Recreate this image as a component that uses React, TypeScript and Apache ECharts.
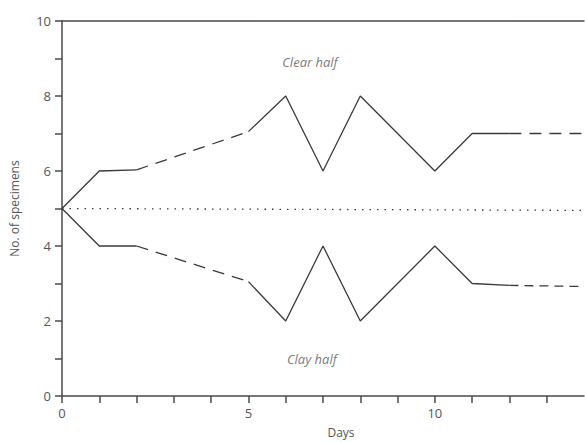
import React, { useEffect, useRef } from "react";
import * as echarts from "echarts";

const xTickLabels = ["0", "5", "10"];
const yTickLabels = ["0", "2", "4", "6", "8", "10"];

const clearSolidA = [[0, 5], [1, 6], [2, 6.03]];
const clearDashedA = [[2, 6.03], [5, 7.05]];
const clearSolidB = [[5, 7.05], [6, 8], [7, 6], [8, 8], [10, 6], [11, 7], [12, 7]];
const clearDashedB = [[12, 7], [14, 7]];

const claySolidA = [[0, 5], [1, 4], [2, 4]];
const clayDashedA = [[2, 4], [5, 3.05]];
const claySolidB = [[5, 3.05], [6, 2], [7, 4], [8, 2], [10, 4], [11, 3], [12, 2.95]];
const clayDashedB = [[12, 2.95], [14, 2.92]];

const midDotted = [[0, 5], [14, 4.95]];

const regionLabels = [
  { name: "Clear half", value: [6.65, 8.9] },
  { name: "Clay half", value: [6.7, 1.0] },
];

const lineColor = "#3a3a3a";
const axisColor = "#4a4a4a";
const textColor = "#555";
const font = "Open Sans";

function lineSeries(data: number[][], type: any, width = 1.3) {
  return {
    type: "line",
    data,
    symbol: "none",
    silent: true,
    lineStyle: { color: lineColor, width, type },
  };
}

export default function App() {
  const ref = useRef<HTMLDivElement>(null);
  useEffect(() => {
    if (!ref.current) return;
    const chart = echarts.init(ref.current, null, { renderer: "svg" });
    chart.setOption({
      animation: false,
      backgroundColor: "#fff",
      grid: { left: 61, right: 1, top: 21, bottom: 43 },
      xAxis: [
        {
          type: "value",
          min: 0,
          max: 14,
          interval: 1,
          name: "Days",
          nameLocation: "middle",
          nameGap: 30,
          nameTextStyle: { color: textColor, fontFamily: font, fontSize: 12, padding: [0, 0, 0, 36] },
          axisLine: { lineStyle: { color: axisColor, width: 1.5 } },
          axisTick: { length: 7, lineStyle: { color: axisColor, width: 1.5 } },
          axisLabel: {
            color: textColor,
            fontFamily: font,
            fontSize: 13,
            margin: 10,
            showMaxLabel: false,
            formatter: (v: number) => (xTickLabels.includes(String(v)) ? String(v) : ""),
          },
          splitLine: { show: false },
        },
        {
          type: "value",
          position: "top",
          min: 0,
          max: 14,
          axisLine: { show: true, lineStyle: { color: axisColor, width: 1.5 } },
          axisTick: { show: false },
          axisLabel: { show: false },
          splitLine: { show: false },
        },
      ],
      yAxis: {
        type: "value",
        min: 0,
        max: 10,
        interval: 1,
        name: "No. of specimens",
        nameLocation: "middle",
        nameGap: 42,
        nameTextStyle: { color: textColor, fontFamily: font, fontSize: 12 },
        axisLine: { show: true, lineStyle: { color: axisColor, width: 1.5 } },
        axisTick: { show: true, length: 7, lineStyle: { color: axisColor, width: 1.5 } },
        axisLabel: {
          color: textColor,
          fontFamily: font,
          fontSize: 13,
          margin: 11,
          formatter: (v: number) => (yTickLabels.includes(String(v)) ? String(v) : ""),
        },
        splitLine: { show: false },
      },
      series: [
        lineSeries(clearSolidA, "solid"),
        lineSeries(clearDashedA, [12, 8]),
        lineSeries(clearSolidB, "solid"),
        lineSeries(clearDashedB, [12, 8]),
        lineSeries(claySolidA, "solid"),
        lineSeries(clayDashedA, [12, 8]),
        lineSeries(claySolidB, "solid"),
        lineSeries(clayDashedB, [9, 6]),
        lineSeries(midDotted, [1.5, 6], 1.3),
        {
          type: "scatter",
          data: regionLabels,
          symbolSize: 0,
          silent: true,
          label: {
            show: true,
            position: "inside",
            formatter: (p: any) => p.name,
            color: textColor,
            fontFamily: font,
            fontStyle: "italic",
            fontSize: 13,
          },
        },
      ],
    });
    return () => chart.dispose();
  }, []);
  return <div ref={ref} style={{ width: 585, height: 443, position: "absolute", left: 0, top: 0 }} />;
}
